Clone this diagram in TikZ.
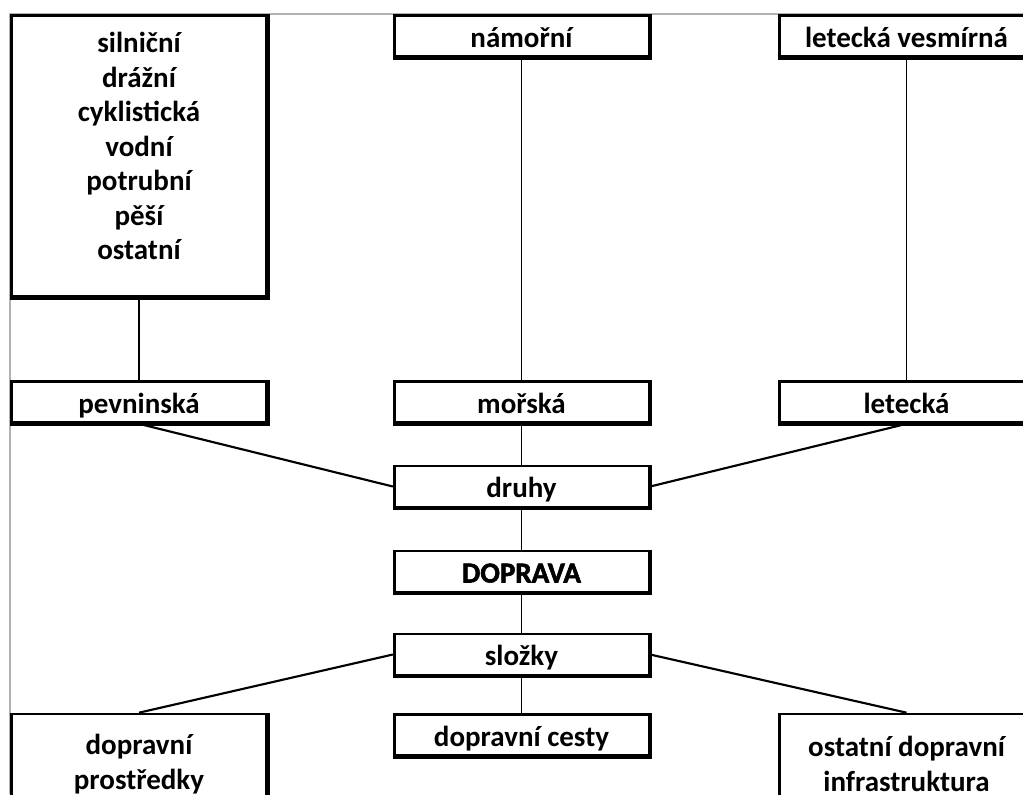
\documentclass[tikz,border=0pt]{standalone}
\usepackage{fontspec}
\setmainfont{Carlito}
\newfontfamily\xbold{Carlito}[FakeBold=2]
\begin{document}
\begin{tikzpicture}[x=0.75pt,y=-0.75pt,
  txt/.style={font=\fontsize{21.75}{25.9}\selectfont\bfseries,align=center,inner sep=0pt},
  box/.style={txt,draw,line width=2pt,minimum width=191pt,minimum height=30.75pt},
  one/.style={text height=16.5pt,text depth=0pt},
  heavy/.style={line width=3.2pt,line join=miter},
  link/.style={line width=1.1pt},
  slant/.style={line width=1.6pt},
  frame/.style={draw=black!30,line width=0.8pt}]
\useasboundingbox (0,0) rectangle (1023,794);
\clip (0,0) rectangle (1023,794);
\draw[frame] (1023,14) -- (10,14) -- (10,794);

% top row
\node[box,minimum height=211pt] (A) at (139,156) {};
\node[txt] (Atxt) at (139,146) {silniční\\drážní\\cyklistická\\vodní\\potrubní\\pěší\\ostatní};
\node[box,one] (nam) at (521.5,36) {námořní};
\node[box,one] (lv) at (906.5,36) {letecká vesmírná};

% second row
\node[box,one] (pev) at (139,402) {pevninská};
\node[box,one] (mor) at (521.5,402) {mořská};
\node[box,one] (let) at (906.5,402) {letecká};

% centre column
\node[box,one] (dru) at (521.5,486.5) {druhy};
\node[box,one] (dop) at (521.5,571.5) {\xbold\bfseries DOPRAVA};
\node[box,one] (slo) at (521.5,654.5) {složky};

% bottom row
\node[box,minimum height=75pt] (pro) at (139,764) {dopravní\\prostředky};
\node[box,one] (ces) at (521.5,735) {dopravní cesty};
\node[box,minimum height=75pt] (inf) at (906.5,764) {ostatní dopravní\\infrastruktura};

\foreach \n in {A,nam,lv,pev,mor,let,dru,dop,slo,pro,ces,inf}
  \draw[heavy] (\n.north east) -- (\n.south east) -- (\n.south west);

% connectors
\draw[link] (A.south) -- (pev.north);
\draw[link] (nam.south) -- (mor.north);
\draw[link] (lv.south) -- (let.north);
\draw[link] (mor.south) -- (dru.north);
\draw[link] (dru.south) -- (dop.north);
\draw[link] (dop.south) -- (slo.north);
\draw[link] (slo.south) -- (ces.north);
\draw[slant] (pev.south) -- (dru.west);
\draw[slant] (let.south) -- (dru.east);
\draw[slant] (slo.west) -- (pro.north);
\draw[slant] (slo.east) -- (inf.north);
\end{tikzpicture}
\end{document}
